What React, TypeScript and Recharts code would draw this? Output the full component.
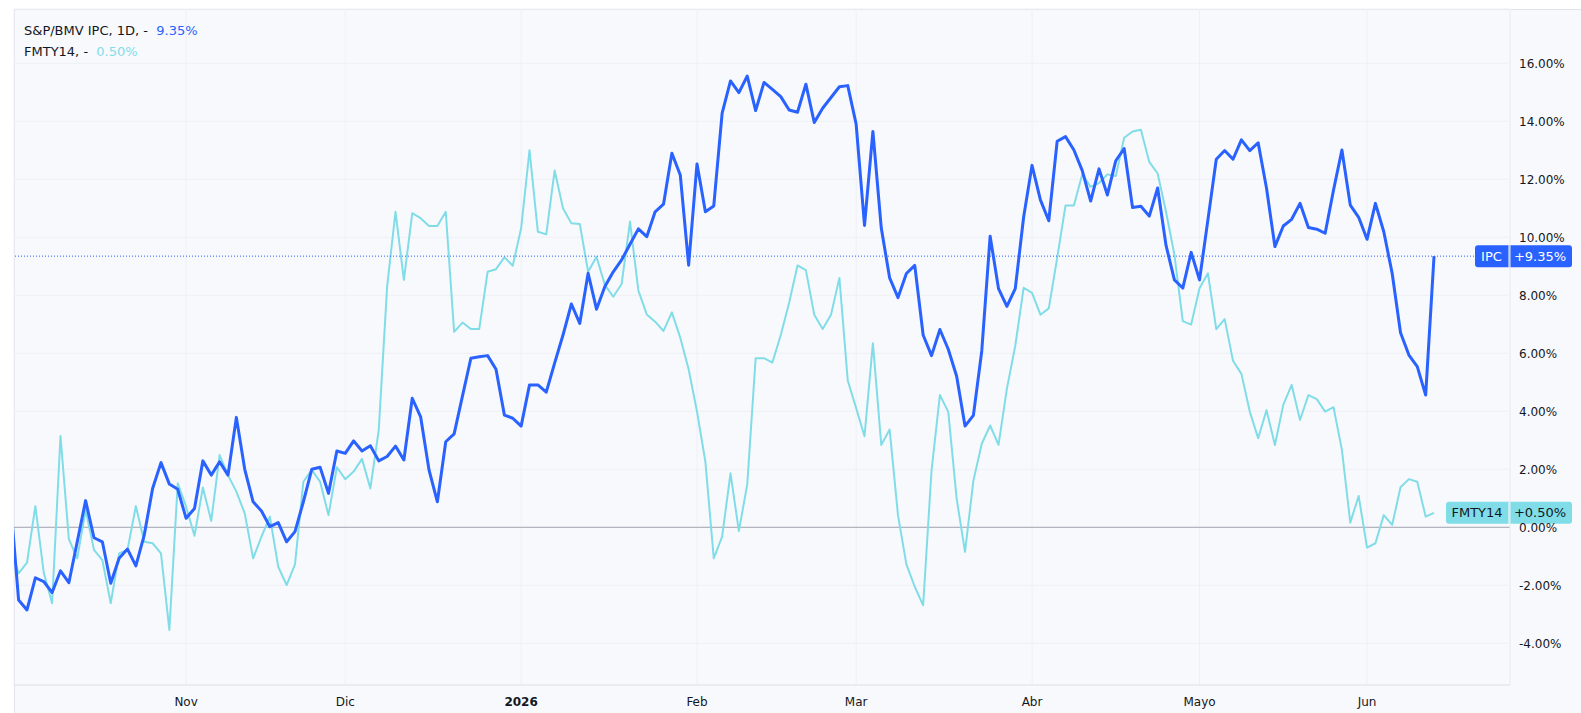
import React from 'react';
import { LineChart, Line, XAxis, YAxis, CartesianGrid, ReferenceLine } from 'recharts';

// daily % change since start, one value per trading day (Oct 2025 -> Jun 2026)
const ipcValues = [
  1.0, -2.51, -2.85, -1.74, -1.87, -2.25, -1.5, -1.91, -0.5, 0.92,
  -0.36, -0.5, -1.93, -1.07, -0.75, -1.33, -0.27, 1.34, 2.23, 1.49,
  1.31, 0.31, 0.65, 2.29, 1.8, 2.26, 1.8, 3.79, 2.0, 0.88,
  0.56, 0.02, 0.16, -0.5, -0.15, 0.88, 2.0, 2.07, 1.17, 2.63,
  2.55, 2.98, 2.63, 2.81, 2.29, 2.44, 2.8, 2.32, 4.45, 3.81,
  1.98, 0.88, 2.95, 3.22, 4.53, 5.83, 5.88, 5.92, 5.45, 3.87,
  3.76, 3.49, 4.91, 4.91, 4.66, 5.66, 6.63, 7.7, 7.03, 8.76,
  7.52, 8.3, 8.81, 9.22, 9.76, 10.29, 10.02, 10.88, 11.14, 12.9,
  12.15, 9.04, 12.53, 10.88, 11.08, 14.28, 15.39, 14.99, 15.56, 14.37,
  15.34, 15.1, 14.85, 14.39, 14.31, 15.28, 13.96, 14.45, 14.82, 15.19,
  15.23, 13.9, 10.41, 13.65, 10.32, 8.6, 7.92, 8.75, 9.03, 6.63,
  5.92, 6.82, 6.14, 5.21, 3.49, 3.86, 6.08, 10.04, 8.23, 7.62,
  8.23, 10.7, 12.48, 11.29, 10.57, 13.31, 13.47, 13.01, 12.3, 11.25,
  12.36, 11.46, 12.64, 13.06, 11.03, 11.07, 10.73, 11.7, 9.72, 8.53,
  8.25, 9.48, 8.53, 10.6, 12.69, 12.99, 12.69, 13.36, 12.99, 13.26,
  11.69, 9.68, 10.39, 10.62, 11.17, 10.34, 10.28, 10.14, 11.63, 13.01,
  11.11, 10.69, 9.93, 11.17, 10.19, 8.76, 6.71, 5.94, 5.54, 4.56,
  9.35,
];

const fmtyValues = [
  -0.66, -1.59, -1.22, 0.73, -1.56, -2.62, 3.15, -0.41, -1.07, 0.6,
  -0.78, -1.13, -2.62, -0.9, -0.78, 0.73, -0.5, -0.55, -0.9, -3.54,
  1.52, 0.71, -0.29, 1.37, 0.22, 2.49, 1.8, 1.23, 0.48, -1.07,
  -0.32, 0.37, -1.36, -1.99, -1.28, 1.57, 1.98, 1.57, 0.42, 2.07,
  1.66, 1.92, 2.36, 1.34, 3.36, 8.3, 10.88, 8.53, 10.83, 10.66,
  10.39, 10.39, 10.88, 6.74, 7.06, 6.84, 6.84, 8.81, 8.9, 9.31,
  9.02, 10.31, 13.0, 10.19, 10.1, 12.3, 11.0, 10.48, 10.46, 8.81,
  9.33, 8.36, 7.95, 8.39, 10.54, 8.16, 7.34, 7.09, 6.77, 7.41,
  6.54, 5.45, 3.99, 2.26, -1.07, -0.32, 1.86, -0.13, 1.48, 5.83,
  5.83, 5.68, 6.63, 7.74, 9.03, 8.87, 7.33, 6.84, 7.33, 8.6,
  5.06, 4.11, 3.14, 6.35, 2.84, 3.37, 0.41, -1.28, -2.05, -2.69,
  1.95, 4.56, 3.98, 0.99, -0.85, 1.61, 2.88, 3.51, 2.84, 4.78,
  6.26, 8.26, 8.08, 7.33, 7.55, 9.28, 11.1, 11.1, 12.17, 11.74,
  11.87, 12.17, 12.11, 13.43, 13.65, 13.71, 12.6, 12.2, 10.88, 9.4,
  7.11, 6.99, 8.24, 8.76, 6.83, 7.18, 5.74, 5.29, 3.99, 3.07,
  4.04, 2.84, 4.22, 4.91, 3.7, 4.56, 4.42, 3.99, 4.14, 2.67,
  0.16, 1.08, -0.7, -0.55, 0.42, 0.08, 1.38, 1.66, 1.57, 0.37,
  0.5,
];

// first trading day of each month (index into the series)
const monthTickIdx = [21, 40, 61, 82, 101, 122, 142, 162];
const monthTickLabels = ['Nov', 'Dic', '2026', 'Feb', 'Mar', 'Abr', 'Mayo', 'Jun'];
const yTicks = [-4, -2, 0, 2, 4, 6, 8, 10, 12, 14, 16];

const ipcLast = 9.35;
const fmtyLast = 0.5;

const IPC_COLOR = '#2962ff';
const FMTY_COLOR = '#80dde8';
const TEXT = '#131722';
const FONT = '"DejaVu Sans", sans-serif';

const chartData = ipcValues.map((v, i) => ({ idx: i, ipc: v, fmty: fmtyValues[i] }));

function MonthTick({ x, y, payload }: any) {
  const label = monthTickLabels[monthTickIdx.indexOf(payload.value)];
  return (
    <text x={x} y={y} dy="0.71em" textAnchor="middle" fill={TEXT} fontSize={12}
      fontFamily={FONT} fontWeight={label === '2026' ? 700 : 400}>
      {label}
    </text>
  );
}

function PriceTick({ x, y, payload }: any) {
  return (
    <text x={x} y={y} dy="0.355em" textAnchor="start" fill={TEXT} fontSize={12} fontFamily={FONT}>
      {payload.value.toFixed(2) + '%'}
    </text>
  );
}

// price-scale badge: name box + value box, centred on the series' last value
const makeBadge = (name: string, value: string, bg: string, fg: string, nameWidth: number) =>
  (props: any) => {
    const vb = props.viewBox;
    const right = vb.x + vb.width;
    const cy = vb.y;
    return (
      <g>
        <rect x={right - nameWidth} y={cy - 11} width={nameWidth + 62} height={22} rx={3} fill={bg} />
        <line x1={right - 1} x2={right - 1} y1={cy - 11} y2={cy + 11} stroke="#ffffff" strokeWidth={1} />
        <text x={right - nameWidth / 2 - 1} y={cy} dy="0.355em" textAnchor="middle" fill={fg}
          fontSize={13} fontFamily={FONT}>{name}</text>
        <text x={right + 30} y={cy} dy="0.355em" textAnchor="middle" fill={fg}
          fontSize={13} fontFamily={FONT}>{value}</text>
      </g>
    );
  };

export default function App() {
  return (
    <div style={{ position: 'absolute', left: 0, top: 0, width: 1581, height: 713, background: '#ffffff', overflow: 'hidden' }}>
      <div style={{
        position: 'absolute', left: 14, top: 9, width: 1567, height: 704,
        background: '#f8f9fd', borderLeft: '1px solid #e0e3eb', borderTop: '1px solid #e0e3eb',
        boxSizing: 'border-box'
      }} />
      <div style={{ position: 'absolute', left: 0, top: 0 }}>
        <LineChart width={1581} height={713} data={chartData}
          margin={{ top: 9, left: 14, right: 0, bottom: 0 }}>
          <CartesianGrid stroke="#eef0f6" strokeWidth={1} />
          <XAxis dataKey="idx" type="number" domain={[0.45, 179.07]} allowDataOverflow
            ticks={monthTickIdx} interval={0} height={28} tickSize={0} tickMargin={12}
            axisLine={{ stroke: '#e0e3eb' }} tickLine={false} tick={<MonthTick />} />
          <YAxis orientation="right" type="number" domain={[-5.438, 17.872]} allowDataOverflow
            ticks={yTicks} interval={0} width={71} tickSize={0} tickMargin={9}
            axisLine={{ stroke: '#eceef4' }} tickLine={false} tick={<PriceTick />} />
          <ReferenceLine y={0} stroke="#a3a6af" strokeWidth={1} />
          <Line type="linear" dataKey="fmty" stroke={FMTY_COLOR} strokeWidth={2} dot={false}
            isAnimationActive={false} strokeLinejoin="round" />
          <Line type="linear" dataKey="ipc" stroke={IPC_COLOR} strokeWidth={3} dot={false}
            isAnimationActive={false} strokeLinejoin="round" />
          <ReferenceLine y={ipcLast} stroke={IPC_COLOR} strokeWidth={1} strokeDasharray="1 2"
            label={makeBadge('IPC', '+9.35%', IPC_COLOR, '#ffffff', 35)} />
          <ReferenceLine y={fmtyLast} stroke="none"
            label={makeBadge('FMTY14', '+0.50%', FMTY_COLOR, TEXT, 64)} />
        </LineChart>
      </div>
      <div style={{ position: 'absolute', left: 24, top: 20, fontFamily: FONT, fontSize: 13, lineHeight: '21px', color: TEXT, whiteSpace: 'nowrap' }}>
        <div>S&amp;P/BMV IPC, 1D, -&nbsp; <span style={{ color: IPC_COLOR }}>{ipcLast.toFixed(2)}%</span></div>
        <div>FMTY14, -&nbsp; <span style={{ color: FMTY_COLOR }}>{fmtyLast.toFixed(2)}%</span></div>
      </div>
    </div>
  );
}
